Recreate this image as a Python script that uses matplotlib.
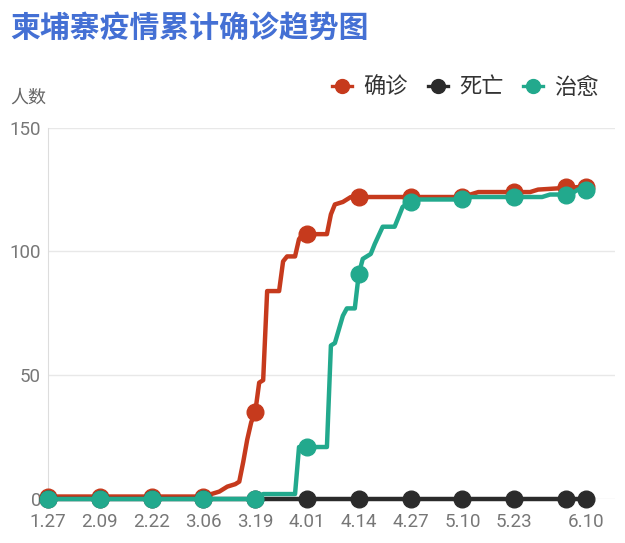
import matplotlib
matplotlib.use("Agg")
import matplotlib.pyplot as plt
import pandas as pd
from matplotlib.lines import Line2D

# 数据（从图上读取，2020年）
confirmed_dates = ["01-27", "03-06", "03-08", "03-10", "03-12", "03-14", "03-15", "03-16",
                   "03-17", "03-18", "03-19", "03-20", "03-21", "03-22", "03-25", "03-26",
                   "03-27", "03-29", "03-30", "03-31", "04-06", "04-07", "04-08", "04-10",
                   "04-12", "05-10", "05-12", "05-14", "05-27", "05-29", "06-08", "06-10"]
confirmed_vals = [1, 1, 2, 3, 5, 6, 7, 15, 24, 31, 35, 47, 48, 84, 84, 96,
                  98, 98, 105, 107, 107, 115, 119, 120, 122, 122, 123, 124, 124, 125, 126, 126]

recovered_dates = ["01-27", "03-20", "03-21", "03-29", "03-30", "04-06", "04-07", "04-08",
                   "04-10", "04-11", "04-13", "04-14", "04-15", "04-17", "04-18", "04-20",
                   "04-23", "04-25", "04-27", "04-29", "05-10", "05-12", "05-30", "06-01",
                   "06-06", "06-08", "06-10"]
recovered_vals = [0, 0, 2, 2, 21, 21, 62, 63, 74, 77, 77, 91, 97, 99, 103, 110,
                  110, 118, 120, 121, 121, 122, 122, 123, 123, 125, 125]

deaths_dates = ["01-27", "06-10"]
deaths_vals = [0, 0]

# 标记点
mark_dates = ["01-27", "02-09", "02-22", "03-06", "03-19", "04-01", "04-14", "04-27",
              "05-10", "05-23", "06-05", "06-10"]
confirmed_marks = [1, 1, 1, 1, 35, 107, 122, 122, 122, 124, 126, 126]
deaths_marks = [0] * 12
recovered_marks = [0, 0, 0, 0, 0, 21, 91, 120, 121, 122, 123, 125]

tick_dates = ["01-27", "02-09", "02-22", "03-06", "03-19", "04-01", "04-14", "04-27",
              "05-10", "05-23", "06-10"]
tick_labels = ["1.27", "2.09", "2.22", "3.06", "3.19", "4.01", "4.14", "4.27",
               "5.10", "5.23", "6.10"]


def to_dt(lst):
    return pd.to_datetime(["2020-" + d for d in lst])


c_red = "#c63a1d"
c_black = "#2b2b2b"
c_green = "#22a98d"

plt.rcParams["font.family"] = ["Noto Sans CJK SC", "DejaVu Sans"]

fig = plt.figure(figsize=(6.25, 5.43), dpi=100)
ax = fig.add_axes([48 / 625, 44 / 543, (615 - 48) / 625, (499 - 127.7) / 543])

series = [
    ("确诊", confirmed_dates, confirmed_vals, confirmed_marks, c_red),
    ("死亡", deaths_dates, deaths_vals, deaths_marks, c_black),
    ("治愈", recovered_dates, recovered_vals, recovered_marks, c_green),
]
for i, (name, d, v, m, col) in enumerate(series):
    ax.plot(to_dt(d), v, color=col, lw=3.2, solid_joinstyle="round", zorder=3 + i,
            clip_on=False)
    ax.plot(to_dt(mark_dates), m, "o", color=col, ms=12, zorder=3 + i, clip_on=False)

ax.set_ylim(0, 150)
ax.set_yticks([0, 50, 100, 150])
ax.set_xlim(pd.Timestamp("2020-01-27"), pd.Timestamp("2020-01-27") + pd.Timedelta(days=142.3))
ax.set_xticks(to_dt(tick_dates))
ax.set_xticklabels(tick_labels)

ax.grid(axis="y", color="#e8e8e8", lw=1)
ax.set_axisbelow(True)
for s in ["top", "right", "bottom"]:
    ax.spines[s].set_visible(False)
ax.spines["left"].set_color("#dddddd")
ax.tick_params(length=0, labelsize=13.5, labelcolor="#777777")
ax.tick_params(axis="x", pad=10)
ax.tick_params(axis="y", pad=5)
for lab in ax.get_xticklabels() + ax.get_yticklabels():
    lab.set_family("Roboto")

fig.text(10 / 625, 1 - 28 / 543, "柬埔寨疫情累计确诊趋势图", color="#4470d4",
         fontsize=21.5, fontweight="bold", va="center", ha="left")
fig.text(10 / 625, 1 - 98 / 543, "人数", color="#666666", fontsize=13, va="center", ha="left")

handles = [Line2D([], [], color=col, lw=2.4, marker="o", ms=10) for _, _, _, _, col in series]
fig.legend(handles, [s[0] for s in series], loc="center right",
           bbox_to_anchor=(599 / 625, 1 - 87 / 543), ncol=3, frameon=False,
           fontsize=16, handlelength=0.9, handletextpad=0.5, columnspacing=0.9,
           borderpad=0, borderaxespad=0, labelcolor="#333333")

fig.savefig("out.png", dpi=100)
